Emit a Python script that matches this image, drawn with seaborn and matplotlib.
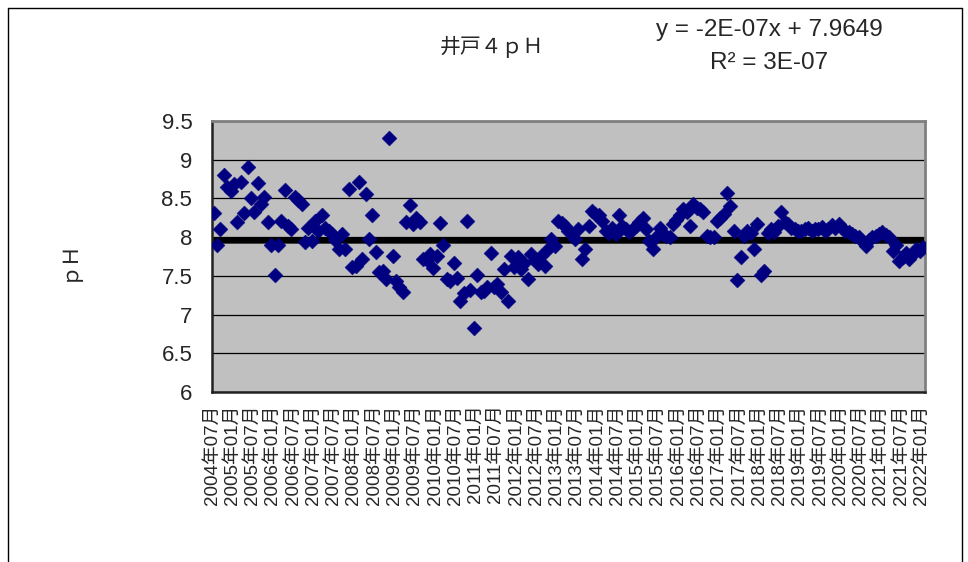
import numpy as np
import pandas as pd
import matplotlib
matplotlib.use("Agg")
import matplotlib.pyplot as plt
import seaborn as sns
from matplotlib.lines import Line2D

# ---------------- data ----------------
start_month = "2004-07"
# monthly pH readings, 2004-07 .. 2022-01
ph_values = [
    8.31, 7.90, 8.11, 8.80, 8.65, 8.60, 8.68, 8.20, 8.71, 8.31, 8.91, 8.50,
    8.33, 8.70, 8.43, 8.52, 8.20, 7.90, 7.51, 7.90, 8.21, 8.61, 8.15, 8.10,
    8.52, 8.48, 8.43, 7.94, 8.12, 7.95, 8.21, 8.08, 8.28, 8.12, 8.08, 8.04,
    7.96, 7.85, 8.04, 7.85, 8.62, 7.61, 7.63, 8.71, 7.72, 8.56, 7.97, 8.28,
    7.81, 7.55, 7.56, 7.46, 9.28, 7.76, 7.44, 7.36, 7.29, 8.20, 8.41, 8.17,
    8.25, 8.19, 7.72, 7.70, 7.78, 7.60, 7.76, 8.18, 7.90, 7.46, 7.44, 7.66,
    7.47, 7.18, 7.28, 8.21, 7.32, 6.83, 7.51, 7.29, 7.30, 7.35, 7.80, 7.35,
    7.39, 7.29, 7.59, 7.18, 7.76, 7.62, 7.74, 7.59, 7.67, 7.46, 7.78, 7.70,
    7.65, 7.76, 7.63, 7.85, 7.97, 7.89, 8.21, 8.18, 8.15, 8.08, 8.04, 7.97,
    8.10, 7.72, 7.85, 8.15, 8.34, 8.30, 8.28, 8.21, 8.08, 8.05, 8.12, 8.04,
    8.28, 8.15, 8.10, 8.06, 8.10, 8.15, 8.20, 8.25, 8.10, 7.95, 7.85, 8.00,
    8.12, 8.04, 8.02, 8.00, 8.17, 8.22, 8.28, 8.36, 8.32, 8.15, 8.43, 8.38,
    8.36, 8.32, 8.02, 8.00, 8.00, 8.21, 8.25, 8.30, 8.57, 8.40, 8.08, 7.45,
    7.75, 8.02, 8.08, 8.05, 7.85, 8.17, 7.51, 7.56, 8.05, 8.10, 8.07, 8.15,
    8.32, 8.19, 8.17, 8.12, 8.10, 8.08, 8.08, 8.10, 8.12, 8.08, 8.10, 8.11,
    8.13, 8.08, 8.10, 8.16, 8.12, 8.17, 8.12, 8.08, 8.06, 8.04, 8.02, 8.00,
    7.95, 7.89, 7.96, 8.00, 8.02, 8.04, 8.06, 8.03, 8.00, 7.82, 7.90, 7.69,
    7.74, 7.80, 7.72, 7.78, 7.85, 7.82, 7.87,
]
# Excel linear trendline (x = Excel date serial)
trend_slope = -2e-07
trend_intercept = 7.9649
equation_text = "y = -2E-07x + 7.9649"
r2_text = "R² = 3E-07"
title_text = "井戸４ｐＨ"
ylabel_text = "ｐＨ"
y_ticks = [6, 6.5, 7, 7.5, 8, 8.5, 9, 9.5]
y_tick_labels = ["6", "6.5", "7", "7.5", "8", "8.5", "9", "9.5"]
label_step_months = 6

# ---------------- derived ----------------
months = pd.period_range(start_month, periods=len(ph_values), freq="M")
month_idx = np.arange(len(ph_values))
df = pd.DataFrame({"month": month_idx + 0.5, "ph": ph_values})
tick_pos = month_idx[::label_step_months]
tick_labels = [f"{p.year}年{p.month:02d}月" for p in months[::label_step_months]]

excel_epoch = pd.Timestamp("1899-12-30")
first_serial = (months[0].to_timestamp() - excel_epoch).days
last_serial = (months[-1].to_timestamp() - excel_epoch).days

# ---------------- style ----------------
sns.set_style("white")
plt.rcParams["font.family"] = ["Liberation Sans", "Noto Sans CJK JP", "DejaVu Sans"]

W, H = 968, 562
fig = plt.figure(figsize=(W / 100, H / 100), dpi=100)
fig.patch.set_facecolor("white")

L, R, T, B = 211.7, 925.0, 121.0, 392.0
ax = fig.add_axes([L / W, 1 - B / H, (R - L) / W, (B - T) / H])
ax.set_facecolor("#C0C0C0")

ax.set_xlim(-0.1, 211.1)
ax.set_ylim(6, 9.5)

ax.set_yticks(y_ticks)
ax.grid(axis="y", color="black", linewidth=0.9, zorder=0)
ax.grid(axis="x", visible=False)
ax.set_axisbelow(True)

# trend line from Excel equation
xs = np.array([ax.get_xlim()[0], ax.get_xlim()[1]])
serials = first_serial + (xs / (len(ph_values) - 1)) * (last_serial - first_serial)
ax.plot(xs, trend_intercept + trend_slope * serials, color="black",
        linewidth=4.6, zorder=2, solid_capstyle="butt")

sns.scatterplot(data=df, x="month", y="ph", ax=ax, marker="D", s=58,
                color="#000080", edgecolor="#000080", linewidth=0.3,
                zorder=3, legend=False)

ax.set_yticklabels(y_tick_labels, fontsize=16)
ax.set_xticks(tick_pos)
ax.set_xticklabels(tick_labels, rotation=90, fontsize=13.5)
ax.tick_params(axis="x", direction="in", length=5, width=1, color="black", pad=9)
ax.tick_params(axis="y", length=0, pad=14)
ax.set_xlabel("")
ax.set_ylabel("")

for s in ["left", "bottom"]:
    ax.spines[s].set_color("#222222")
    ax.spines[s].set_linewidth(1.8)
for s in ["top", "right"]:
    ax.spines[s].set_color("#808080")
    ax.spines[s].set_linewidth(2.0)

# texts
fig.text(492 / W, 1 - 47 / H, title_text, ha="center", va="center",
         fontsize=15, family=["Noto Sans CJK JP", "DejaVu Sans"])
fig.text(769 / W, 1 - 30 / H, equation_text, ha="center", va="center", fontsize=17.5)
fig.text(769 / W, 1 - 63 / H, r2_text, ha="center", va="center", fontsize=17.5)
fig.text(68 / W, 1 - 260 / H, ylabel_text, ha="center", va="center", rotation=90,
         fontsize=15, family=["Noto Sans CJK JP", "DejaVu Sans"])

# outer chart frame
for (x0, y0, x1, y1) in [(7.5, 7.5, 961.5, 7.5), (7.5, 7.5, 7.5, 562), (961.5, 7.5, 961.5, 562)]:
    fig.add_artist(Line2D([x0 / W, x1 / W], [1 - y0 / H, 1 - y1 / H],
                          transform=fig.transFigure, color="black", linewidth=1.0))

fig.savefig("out.png", dpi=100)
